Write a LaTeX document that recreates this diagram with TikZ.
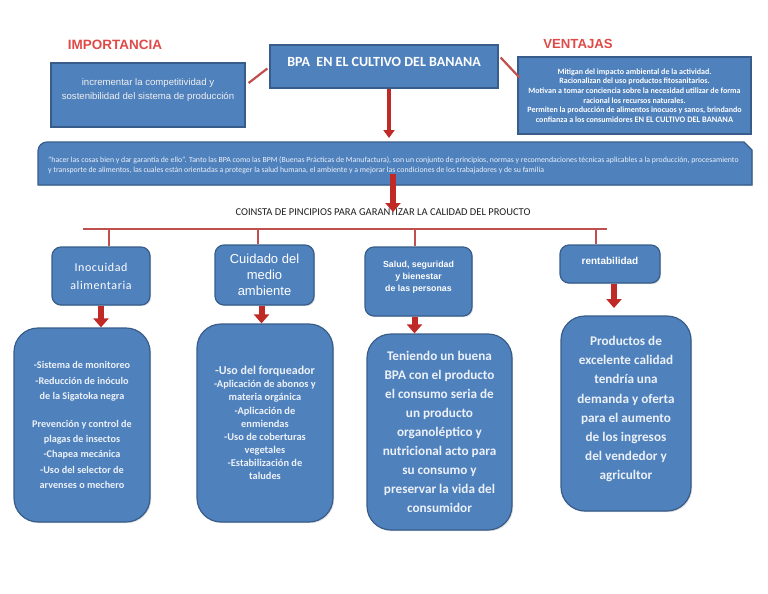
\documentclass[tikz,border=0pt]{standalone}
\usepackage{fontspec}
\setmainfont{Carlito}
\newfontfamily\arialfont{Liberation Sans}
\newfontfamily\spacedfont[LetterSpace=5]{Carlito}
\usetikzlibrary{shapes,arrows,arrows.meta,shadows}
\definecolor{boxblue}{RGB}{79,129,189}
\definecolor{boxedge}{RGB}{56,93,138}
\definecolor{linered}{RGB}{192,80,77}
\definecolor{arrowred}{RGB}{192,42,38}
\definecolor{labelred}{RGB}{222,74,72}
\definecolor{paletext}{RGB}{236,241,248}
\definecolor{captiontext}{RGB}{30,30,30}
\tikzstyle{block} = [rectangle, draw=boxedge, fill=boxblue, line width=1.2pt,
    text=white, align=center, inner sep=0pt,
    drop shadow={shadow xshift=1.2pt, shadow yshift=-1.2pt, opacity=0.25}]
\tikzstyle{pill} = [block, rounded corners=9pt]
\tikzstyle{tall} = [block, rounded corners=24pt, text=paletext]
\tikzstyle{tag} = [text=labelred, font=\arialfont\bfseries\fontsize{13.5}{14}\selectfont]
\tikzstyle{link} = [draw=linered, line width=2.2pt]
\tikzstyle{push} = [draw=arrowred, line width=6pt, -{Triangle[width=15pt,length=9pt]}]
\tikzstyle{pushthin} = [push, line width=3.5pt, -{Triangle[width=11pt,length=8pt]}]

\begin{document}
\begin{tikzpicture}[x=1pt, y=-1pt]
  \useasboundingbox (0,0) rectangle (768,594);
  % top row
  \node [tag] (imp_tag) at (115,45) {IMPORTANCIA};
  \node [tag, font=\arialfont\bfseries\fontsize{13.2}{14}\selectfont] (vent_tag) at (578,44) {VENTAJAS};
  \node [block, minimum width=228pt, minimum height=43pt,
    font=\bfseries\fontsize{14}{16}\selectfont] (title) at (384,66.5)
    {BPA\ \ EN EL CULTIVO DEL BANANA\\[-7pt]};
  \node [block, minimum width=194pt, minimum height=64pt, text=white!88!gray,
    font=\arialfont\fontsize{9.6}{14}\selectfont] (imp_box) at (148,95)
    {incrementar la competitividad y\\sostenibilidad del sistema de producción\\[-2pt]};
  \node [block, minimum width=233pt, minimum height=77pt,
    font=\bfseries\fontsize{8}{9.6}\selectfont] (vent_box) at (634.5,95.5)
    {Mitigan del impacto ambiental de la actividad.\\
     Racionalizan del uso productos fitosanitarios.\\
     Motivan a tomar conciencia sobre la necesidad utilizar de forma\\
     racional los recursos naturales.\\
     Permiten la producción de alimentos inocuos y sanos, brindando\\
     confianza a los consumidores {\fontsize{8.4}{9.6}\selectfont EN EL CULTIVO DEL BANANA}};
  % wide definition box
  \path [fill=boxblue, draw=boxedge, line width=1.2pt,
    drop shadow={shadow xshift=1.2pt, shadow yshift=-1.2pt, opacity=0.25}]
    (38,185) -- (38,151) arc[start angle=180, end angle=90, radius=9pt]
    -- (744,142) -- (752,150) -- (752,185) -- cycle;
  \node [align=left, anchor=west, text=paletext, inner sep=0pt,
    font=\fontsize{7.8}{10}\selectfont] (wide) at (48,165)
    {"hacer las cosas bien y dar garantía de ello". Tanto las BPA como las BPM (Buenas Prácticas de Manufactura), son un conjunto de principios, normas y recomendaciones técnicas aplicables a la producción, procesamiento\\
     y transporte de alimentos, las cuales están orientadas a proteger la salud humana, el ambiente y a mejorar las condiciones de los trabajadores y de su familia};
  \node [text=captiontext, font=\fontsize{10.5}{12}\selectfont] (caption) at (383,212.5)
    {COINSTA DE PINCIPIOS PARA GARANTIZAR LA CALIDAD DEL PROUCTO};
  % middle row
  \node [pill, minimum width=98pt, minimum height=58pt,
    font=\spacedfont\fontsize{12}{18}\selectfont] (inoc) at (101,276)
    {Inocuidad\\alimentaria};
  \node [pill, minimum width=99pt, minimum height=60pt,
    font=\arialfont\fontsize{13}{16}\selectfont] (cuid) at (264.5,275)
    {Cuidado del\\medio\\ambiente};
  \node [pill, minimum width=107pt, minimum height=69pt,
    font=\arialfont\bfseries\fontsize{8.8}{12}\selectfont] (salud) at (418.5,281.5)
    {Salud, seguridad\\y bienestar\\de las personas\\[-2pt]};
  \node [pill, minimum width=100pt, minimum height=38pt,
    font=\arialfont\bfseries\fontsize{10}{12}\selectfont] (rent) at (610,264)
    {rentabilidad\\[-6pt]};
  % bottom row
  \node [tall, minimum width=136pt, minimum height=194pt,
    font=\bfseries\fontsize{10.2}{15.2}\selectfont] (inoc_list) at (82,425)
    {-Sistema de monitoreo\\-Reducción de inóculo\\de la Sigatoka negra\\[13pt]
     Prevención y control de\\plagas de insectos\\-Chapea mecánica\\
     -Uso del selector de\\arvenses o mechero};
  \node [tall, minimum width=136pt, minimum height=198pt,
    font=\bfseries\fontsize{10.4}{13.1}\selectfont] (cuid_list) at (265,423)
    {{\fontsize{12}{13.1}\selectfont -Uso del forqueador}\\-Aplicación de abonos y\\
     materia orgánica\\-Aplicación de\\enmiendas\\-Uso de coberturas\\vegetales\\
     -Estabilización de\\taludes};
  \node [tall, minimum width=145pt, minimum height=196pt,
    font=\bfseries\fontsize{13.2}{19.1}\selectfont] (salud_text) at (439.5,432)
    {Teniendo un buena\\BPA con el producto\\el consumo seria de\\un producto\\
     organoléptico y\\nutricional acto para\\su consumo y\\preservar la vida del\\consumidor};
  \node [tall, minimum width=130pt, minimum height=195pt,
    font=\bfseries\fontsize{13.2}{19.1}\selectfont] (rent_text) at (626,413.5)
    {Productos de\\excelente calidad\\tendría una\\demanda y oferta\\para el aumento\\
     de los ingresos\\del vendedor y\\agricultor\\[-8pt]};
  % connectors
  \coordinate (bar_left) at (83,229);
  \coordinate (bar_right) at (607,229);
  \coordinate (drop_a) at (109,229);
  \coordinate (drop_b) at (258,229);
  \coordinate (drop_c) at (415,229);
  \coordinate (drop_d) at (596,229);
  \coordinate (caption_tip) at (393,212);
  \coordinate (rent_tip) at (614,308);
  \path [link] ([shift={(3,-12)}]imp_box.east) -- ([shift={(-2,2)}]title.west);
  \path [link] ([shift={(2,-9)}]title.east) -- ([shift={(2,-18)}]vent_box.west);
  \path [pushthin] ([xshift=5pt]title.south) -- ([xshift=5pt]title.south |- 0,138);
  \path [push] (caption_tip |- wide.south) -- (caption_tip);
  \path [link] (bar_left) -- (bar_right);
  \path [link] (drop_a) -- (drop_a |- inoc.north);
  \path [link] (drop_b) -- (drop_b |- cuid.north);
  \path [link] (drop_c) -- (drop_c |- salud.north);
  \path [link] (drop_d) -- (drop_d |- rent.north);
  \path [push] (inoc.south) -- (inoc.south |- inoc_list.north);
  \path [push] ([xshift=-3pt]cuid.south) -- ([xshift=-3pt]cuid.south |- cuid_list.north);
  \path [push] ([xshift=-4pt]salud.south) -- ([xshift=-4pt]salud.south |- salud_text.north);
  \path [push] (rent_tip |- rent.south) -- (rent_tip);
\end{tikzpicture}
\end{document}
